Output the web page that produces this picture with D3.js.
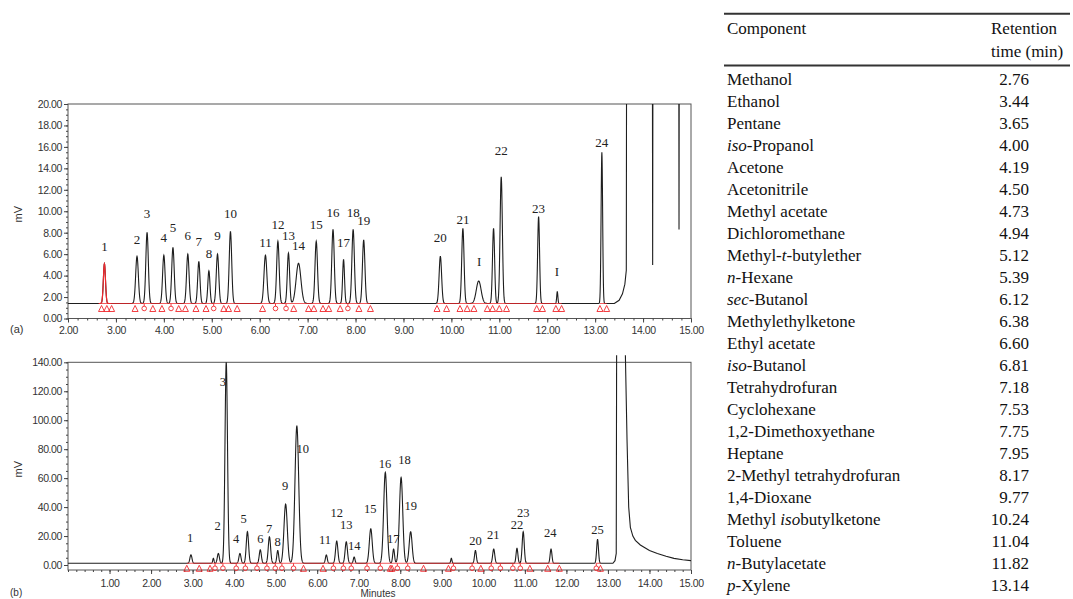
<!DOCTYPE html>
<html>
<head>
<meta charset="utf-8">
<script src="https://cdn.jsdelivr.net/npm/d3@7"></script>
<style>
body { margin: 0; background: #fff; }
svg { display: block; }
.tick text { font-family: "Liberation Sans", Arial, sans-serif; font-size: 10.5px; fill: #333; letter-spacing: -0.4px; }
.tick line { stroke: #444; }
.ax { font-family: "Liberation Sans", Arial, sans-serif; font-size: 11px; fill: #333; }
.pk { font-family: "Liberation Serif", "Times New Roman", serif; fill: #222; }
.tbl { font-family: "Liberation Serif", "Times New Roman", serif; font-size: 17px; fill: #111; }
</style>
</head>
<body>
<div id="canvas"></div>
<script>
// table: component / retention time (min)
let components = ["Methanol", "Ethanol", "Pentane", "_iso_-Propanol", "Acetone", "Acetonitrile",
    "Methyl acetate", "Dichloromethane", "Methyl-_t_-butylether", "_n_-Hexane", "_sec_-Butanol",
    "Methylethylketone", "Ethyl acetate", "_iso_-Butanol", "Tetrahydrofuran", "Cyclohexane",
    "1,2-Dimethoxyethane", "Heptane", "2-Methyl tetrahydrofuran", "1,4-Dioxane",
    "Methyl _iso_butylketone", "Toluene", "_n_-Butylacetate", "_p_-Xylene"]
let retention = [2.76, 3.44, 3.65, 4.00, 4.19, 4.50, 4.73, 4.94, 5.12, 5.39, 6.12, 6.38,
    6.60, 6.81, 7.18, 7.53, 7.75, 7.95, 8.17, 9.77, 10.24, 11.04, 11.82, 13.14]

// chromatogram (a): peaks 1..24 sit at the table retention times
let baseA = 1.4
let heightsA = [5.1, 5.8, 8.0, 5.9, 6.6, 6.0, 5.3, 4.45, 6.0, 8.1, 5.9, 7.2, 6.1, 5.15, 7.2, 8.3,
    5.5, 8.3, 7.3, 5.8, 8.4, 13.2, 9.5, 15.5]
let sigmaA = [0.022, 0.028, 0.026, 0.026, 0.026, 0.026, 0.024, 0.022, 0.026, 0.026, 0.03, 0.026,
    0.024, 0.05, 0.026, 0.026, 0.02, 0.026, 0.026, 0.026, 0.024, 0.024, 0.02, 0.016]
let labelLevelsA = [6.7, 7.4, 9.75, 7.6, 8.5, 7.7, 7.2, 6.1, 7.7, 9.75, 7.1, 8.8, 7.7, 6.8, 8.8, 9.9,
    7.1, 9.9, 9.1, 7.6, 9.25, 15.7, 10.3, 16.4]
let extraTimesA = [10.57, 10.88, 12.21]
let extraHeightsA = [3.5, 8.4, 2.5]
let extraSigmaA = [0.05, 0.022, 0.012]
let impurityTimesA = [10.58, 12.20]
let impurityLevelsA = [5.3, 4.4]
// solvent front of (a), goes off scale
let solventTimesA = [13.40, 13.50, 13.57, 13.62, 13.65, 13.66, 14.19, 14.20, 14.21, 14.74, 14.75, 14.76, 15.0]
let solventValuesA = [1.4, 1.7, 2.3, 3.2, 4.5, 40, 40, 5.0, 40, 40, 8.3, 40, 40]
let markTimesA = [2.70, 2.81, 2.91, 3.40, 3.59, 3.77, 3.96, 4.15, 4.31, 4.45, 4.67, 4.88, 5.04, 5.25,
    5.35, 5.53, 6.06, 6.33, 6.55, 6.71, 7.02, 7.13, 7.32, 7.44, 7.68, 7.84, 8.07, 8.31, 9.70, 9.90,
    10.18, 10.33, 10.47, 10.75, 10.86, 11.00, 11.15, 11.78, 11.90, 12.18, 12.30, 13.10, 13.24]
let markTypesA = ["t","t","t","t","d","t","t","d","t","t","t","t","d","t","t","t","t","d","d","t","t",
    "t","t","t","t","d","t","t","t","t","t","t","t","t","t","t","t","t","t","t","t","t","t"]

// chromatogram (b)
let baseB = 1.2
let timesB = [2.96, 3.62, 3.81, 4.14, 4.32, 4.63, 4.85, 5.05, 5.24, 5.51, 6.22, 6.47, 6.70, 6.89,
    7.29, 7.64, 7.84, 8.02, 8.25, 9.81, 10.25, 10.81, 10.96, 11.63, 12.75]
let heightsB = [7, 8, 140, 8, 23, 10.5, 19.5, 10, 42, 96, 7, 16.5, 16, 5.5, 25, 64, 11, 60.5, 23,
    10, 11, 11.5, 23, 11, 17.7]
let sigmaB = [0.025, 0.025, 0.03, 0.025, 0.028, 0.025, 0.028, 0.022, 0.04, 0.045, 0.022, 0.028,
    0.028, 0.02, 0.035, 0.04, 0.022, 0.04, 0.035, 0.022, 0.025, 0.022, 0.025, 0.022, 0.022]
let labelTimesB = [2.94, 3.60, 3.73, 4.05, 4.23, 4.63, 4.84, 5.05, 5.23, 5.65, 6.19, 6.47, 6.70, 6.89,
    7.28, 7.63, 7.83, 8.10, 8.25, 9.81, 10.24, 10.81, 10.96, 11.61, 12.75]
let labelLevelsB = [19.1, 26.9, 126.6, 18, 31.8, 18, 25.3, 16.1, 54.8, 80.1, 17.3, 36.1, 28.1, 13.5,
    39.1, 69.8, 18, 73, 40.8, 16.8, 21.2, 27.6, 36.1, 22.3, 24.6]
let extraTimesB = [3.50, 9.23]
let extraHeightsB = [4.6, 4.6]
let extraSigmaB = [0.015, 0.015]
let solventTimesB = [13.12, 13.17, 13.20, 13.21, 13.41, 13.46, 13.50, 13.54, 13.60, 13.66, 13.78,
    14.0, 14.19, 14.4, 14.59, 14.8, 15.0]
let solventValuesB = [1.2, 3, 8, 160, 160, 86, 40, 26, 20, 17, 13.8, 10, 8, 6, 4.6, 3.6, 3]
let markTimesB = [2.86, 3.16, 3.42, 3.54, 3.73, 4.05, 4.27, 4.55, 4.79, 4.99, 5.15, 5.43, 5.67, 6.14,
    6.39, 6.63, 6.82, 7.20, 7.52, 7.76, 7.80, 7.93, 8.18, 8.56, 9.16, 9.28, 9.73, 9.94, 10.19, 10.41,
    10.71, 10.89, 11.12, 11.55, 11.83, 12.72, 12.82]
let markTypesB = ["t","t","t","d","d","d","d","d","d","d","d","d","t","t","d","d","d","d","d","t",
    "t","d","d","t","t","d","d","t","d","d","d","d","t","t","t","d","t"]

let ticksA = d3.range(2, 16)
let ticksB = d3.range(1, 16)
let yTicksA = d3.range(0, 21, 2)
let yTicksB = d3.range(0, 141, 20)

const RED = "#f0282d"
let fmt = d3.format(".2f")

let svg = d3.select('#canvas').append('svg')
    .attr('width', 1073).attr('height', 599)
    .style('background', '#fff')

// sum of gaussian peaks on a flat baseline
function buildTrace(times, heights, sigmas, base, t0, t1) {
    let pts = []
    for (let k = 0; t0 + k * 0.004 <= t1 + 1e-9; k++) {
        let t = t0 + k * 0.004
        let v = base
        times.forEach((c, i) => {
            let z = (t - c) / sigmas[i]
            if (Math.abs(z) < 7) v += (heights[i] - base) * Math.exp(-0.5 * z * z)
        })
        pts.push([t, v])
    }
    return pts
}

function drawPanel(p) {
    let g = svg.append('g')
    let [x0, x1] = p.x.range()
    let [yb, yt] = p.y.range()
    let id = 'clip' + p.name

    svg.append('clipPath').attr('id', id).append('rect')
        .attr('x', x0).attr('y', yt - p.overTop).attr('width', x1 - x0).attr('height', yb - yt + p.overTop)

    // frame
    g.append('rect').attr('x', x0).attr('y', yt).attr('width', x1 - x0).attr('height', yb - yt)
        .attr('fill', 'none').attr('stroke', '#555').attr('stroke-width', 1)

    // axes
    let minorX = d3.range(p.x.domain()[0], 15.001, 0.2)
    g.append('g').attr('transform', `translate(0,${yb})`)
        .call(d3.axisBottom(p.x).tickValues(minorX).tickSize(2).tickFormat(''))
    g.append('g').attr('transform', `translate(0,${yb})`)
        .call(d3.axisBottom(p.x).tickValues(p.xTicks).tickSize(4).tickPadding(p.xPad).tickFormat(fmt))
    g.append('g').attr('transform', `translate(${x0},0)`)
        .call(d3.axisLeft(p.y).tickValues(p.yMinor).tickSize(2).tickFormat(''))
    g.append('g').attr('transform', `translate(${x0},0)`)
        .call(d3.axisLeft(p.y).tickValues(p.yTicks).tickSize(4).tickPadding(2).tickFormat(fmt))
    g.selectAll('.domain').remove()

    let line = d3.line().x(d => p.x(d[0])).y(d => p.y(d[1]))
    let pts = buildTrace(p.times.concat(p.extraTimes), p.heights.concat(p.extraHeights),
        p.sigmas.concat(p.extraSigma), p.base, p.x.domain()[0], p.solventTimes[0])
    pts = pts.concat(p.solventTimes.map((t, i) => [t, p.solventValues[i]]))

    let plot = g.append('g').attr('clip-path', `url(#${id})`)
    plot.append('path').datum(pts)
        .attr('d', line).attr('fill', 'none').attr('stroke', '#1e1e1e').attr('stroke-width', 1.1)

    if (p.redPeak) {
        plot.append('path').datum(pts.filter(d => d[0] >= p.redPeak[0] && d[0] <= p.redPeak[1]))
            .attr('d', line).attr('fill', 'none').attr('stroke', RED).attr('stroke-width', 1.2)
    }

    // integration baseline, joining close markers
    let by = p.y(p.base)
    let groups = []
    p.markTimes.forEach((t, i) => {
        if (i == 0 || t - p.markTimes[i - 1] > 0.65) groups.push([t, t])
        else groups[groups.length - 1][1] = t
    })
    plot.selectAll('.rb').data(groups).enter().append('line')
        .attr('x1', d => p.x(d[0])).attr('x2', d => p.x(d[1]))
        .attr('y1', by).attr('y2', by)
        .attr('stroke', RED).attr('stroke-width', 0.9).attr('opacity', 0.85)

    let marks = g.selectAll('.mk').data(p.markTimes).enter().append('g')
        .attr('transform', d => `translate(${p.x(d)},${by + 5})`)
    marks.filter((d, i) => p.markTypes[i] == 't').append('path')
        .attr('d', 'M0,-3 L3,3 L-3,3 Z')
        .attr('fill', 'none').attr('stroke', RED).attr('stroke-width', 0.9)
    let dm = marks.filter((d, i) => p.markTypes[i] == 'd')
    dm.append('circle').attr('r', 2.3)
        .attr('fill', 'none').attr('stroke', RED).attr('stroke-width', 0.9)
    dm.append('line').attr('y1', -2.3).attr('y2', -5)
        .attr('stroke', RED).attr('stroke-width', 0.9)

    // peak numbers
    g.selectAll('.pl').data(p.labelTimes).enter().append('text')
        .attr('class', 'pk')
        .attr('x', d => p.x(d))
        .attr('y', (d, i) => p.y(p.labelLevels[i]))
        .attr('dy', '0.35em')
        .attr('text-anchor', 'middle')
        .style('font-size', p.labelSize + 'px')
        .text((d, i) => p.labelTexts[i])

    // y label
    g.append('text').attr('class', 'ax')
        .attr('transform', `translate(${p.yLabelX},${(yb + yt) / 2 + 3}) rotate(-90)`)
        .attr('text-anchor', 'middle')
        .text('mV')
}

let xA = d3.scaleLinear().domain([2, 15]).range([68, 691])
let yA = d3.scaleLinear().domain([0, 20]).range([318.5, 104])
let xB = d3.scaleLinear().domain([0, 15]).range([68, 691])
let yB = d3.scaleLinear().domain([-3.45, 140]).range([570, 362.3])

drawPanel({
    name: 'A', x: xA, y: yA, overTop: 0, base: baseA, xPad: 4,
    xTicks: ticksA, yTicks: yTicksA, yMinor: d3.range(0, 20.01, 0.5),
    times: retention, heights: heightsA, sigmas: sigmaA,
    extraTimes: extraTimesA, extraHeights: extraHeightsA, extraSigma: extraSigmaA,
    solventTimes: solventTimesA, solventValues: solventValuesA,
    markTimes: markTimesA, markTypes: markTypesA,
    labelTimes: retention.concat(impurityTimesA),
    labelLevels: labelLevelsA.concat(impurityLevelsA),
    labelTexts: retention.map((d, i) => String(i + 1)).concat(impurityTimesA.map(() => 'I')),
    labelSize: 13, redPeak: [2.64, 2.9], yLabelX: 22
})

drawPanel({
    name: 'B', x: xB, y: yB, overTop: 7, base: baseB, xPad: 6,
    xTicks: ticksB, yTicks: yTicksB, yMinor: d3.range(0, 140.01, 5),
    times: timesB, heights: heightsB, sigmas: sigmaB,
    extraTimes: extraTimesB, extraHeights: extraHeightsB, extraSigma: extraSigmaB,
    solventTimes: solventTimesB, solventValues: solventValuesB,
    markTimes: markTimesB, markTypes: markTypesB,
    labelTimes: labelTimesB, labelLevels: labelLevelsB,
    labelTexts: timesB.map((d, i) => String(i + 1)),
    labelSize: 12.5, yLabelX: 22
})

svg.append('text').attr('class', 'ax').attr('x', 10).attr('y', 333).text('(a)')
svg.append('text').attr('class', 'ax').attr('x', 10).attr('y', 596).style('font-size', '10px').text('(b)')
svg.append('text').attr('class', 'ax').attr('x', 378).attr('y', 597).style('font-size', '10px')
    .attr('text-anchor', 'middle').text('Minutes')

// retention time table
let tbl = svg.append('g')
tbl.append('line').attr('x1', 724).attr('x2', 1070).attr('y1', 13.7).attr('y2', 13.7)
    .attr('stroke', '#333').attr('stroke-width', 2)
tbl.append('line').attr('x1', 724).attr('x2', 1070).attr('y1', 65.5).attr('y2', 65.5)
    .attr('stroke', '#333').attr('stroke-width', 2)
tbl.append('text').attr('class', 'tbl').attr('x', 727).attr('y', 33.5).text('Component')
tbl.append('text').attr('class', 'tbl').attr('x', 991).attr('y', 33.5).text('Retention')
tbl.append('text').attr('class', 'tbl').attr('x', 991).attr('y', 56.5).text('time (min)')

let rowY = d3.scaleLinear().domain([0, 1]).range([85, 107])

let names = tbl.selectAll('.nm').data(components).enter().append('text')
    .attr('class', 'tbl').attr('x', 727).attr('y', (d, i) => rowY(i))
names.each(function(d) {
    let parts = d.split('_')
    parts.forEach((s, k) => {
        if (s.length == 0) return
        d3.select(this).append('tspan').style('font-style', k % 2 ? 'italic' : 'normal').text(s)
    })
})

tbl.selectAll('.rt').data(retention).enter().append('text')
    .attr('class', 'tbl').attr('x', 1029).attr('y', (d, i) => rowY(i))
    .attr('text-anchor', 'end')
    .text(d => fmt(d))
</script>
</body>
</html>
